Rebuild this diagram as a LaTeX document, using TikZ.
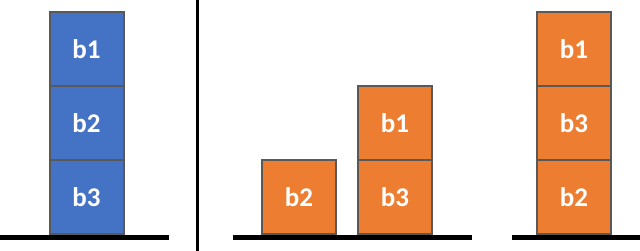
\documentclass[tikz,border=0pt]{standalone}
\usepackage{fontspec}
\setmainfont{Carlito}
\usepackage{xcolor}
\usetikzlibrary{positioning}

\definecolor{blkblue}{HTML}{4472C4}
\definecolor{blkorange}{HTML}{ED7D31}
\definecolor{blkedge}{HTML}{595959}

\begin{document}
\begin{tikzpicture}[x=1pt,y=-1pt,
  blk/.style={draw=blkedge,line width=2pt,minimum width=74pt,minimum height=74pt,
    inner sep=0pt,outer sep=0pt,text=white,font=\fontsize{27}{32}\selectfont\bfseries},
  ground/.style={line width=4.5pt,black}]
  \useasboundingbox (0,0) rectangle (640,251);

  % Initial stack
  \node[blk,fill=blkblue] (i3) at (86.5,197) {b3};
  \node[blk,fill=blkblue,above=0pt of i3] (i2) {b2};
  \node[blk,fill=blkblue,above=0pt of i2] (i1) {b1};
  \draw[ground] (0,237.5) -- (169,237.5);

  % Separator
  \draw[line width=3pt] (197.5,0) -- (197.5,251);

  % Intermediate state
  \node[blk,fill=blkorange] (m2) at (299,197) {b2};
  \node[blk,fill=blkorange] (m3) at (395,197) {b3};
  \node[blk,fill=blkorange,above=0pt of m3] (m1) {b1};
  \draw[ground] (233,237.5) -- (472,237.5);

  % Goal stack
  \node[blk,fill=blkorange] (g2) at (574,197) {b2};
  \node[blk,fill=blkorange,above=0pt of g2] (g3) {b3};
  \node[blk,fill=blkorange,above=0pt of g3] (g1) {b1};
  \draw[ground] (512,237.5) -- (640,237.5);
\end{tikzpicture}
\end{document}
